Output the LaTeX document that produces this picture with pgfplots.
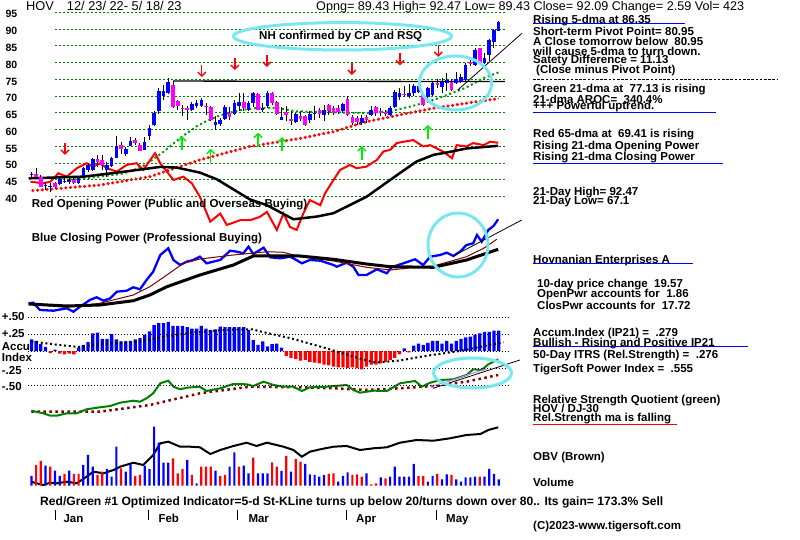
\documentclass[border=0pt]{standalone}
\usepackage{fontspec}
\setmainfont{Liberation Sans}
\usepackage{pgfplots}
\usepackage{pgfplotstable}
\pgfplotsset{compat=1.18}
\usetikzlibrary{arrows.meta}

\definecolor{hblue}{RGB}{0,0,255}
\definecolor{hred}{RGB}{255,0,0}
\definecolor{hmag}{RGB}{255,0,255}
\definecolor{hgrid}{RGB}{0,128,0}
\definecolor{hgreen}{RGB}{0,150,0}
\definecolor{rsgreen}{RGB}{0,128,0}
\definecolor{hlime}{RGB}{0,235,0}
\definecolor{hbrown}{RGB}{128,0,0}
\definecolor{hcyan}{RGB}{120,232,240}
\definecolor{hpink}{RGB}{220,120,255}

\newcommand{\B}{\fontsize{11.5}{11.5}\selectfont\bfseries}

% day index i, open, close, high, low
\pgfplotstableread{
i o c h l
0 46.4 46.9 47.5 46.0
1 46.8 46.0 48.5 45.8
2 45.8 43.0 46.5 42.8
3 43.2 43.6 44.5 42.0
4 43.0 43.2 44.0 41.5
5 44.0 43.0 44.5 42.5
6 43.7 45.3 45.8 43.5
7 44.6 44.8 46.0 44.0
8 44.5 44.9 45.5 43.8
9 45.0 44.2 45.6 43.8
10 44.0 45.5 46.0 43.8
11 46.2 48.7 49.0 46.0
12 48.0 49.5 50.0 47.5
13 48.0 51.2 51.5 47.8
14 51.4 50.4 52.4 49.0
15 50.9 49.4 52.4 48.0
16 48.0 49.5 50.5 45.8
17 49.1 51.6 52.0 49.0
18 51.6 55.1 58.0 51.5
19 55.4 54.1 56.4 52.8
20 52.9 54.2 54.9 52.3
21 55.1 56.7 57.9 55.0
22 56.9 56.1 57.5 55.5
23 55.4 53.7 56.0 53.5
24 53.9 56.4 57.9 53.8
25 58.1 60.4 61.4 56.9
26 61.4 64.9 65.5 61.0
27 65.6 71.5 72.3 64.8
28 70.0 71.5 73.3 69.0
29 71.0 74.2 75.5 70.5
30 73.3 66.9 74.5 66.5
31 68.5 67.0 69.0 65.8
32 66.6 66.1 67.5 64.0
33 66.4 66.0 67.2 63.0
34 66.0 67.8 68.3 65.5
35 67.0 68.0 68.8 66.5
36 67.0 68.8 69.5 66.8
37 67.2 66.9 68.0 64.5
38 66.8 62.8 67.0 62.5
39 61.3 62.3 64.0 60.0
40 61.8 63.0 63.5 61.0
41 63.3 66.8 67.5 63.0
42 65.0 63.8 66.8 62.8
43 64.8 68.0 69.0 64.5
44 67.0 68.3 70.8 65.5
45 68.3 66.6 70.8 65.5
46 65.8 68.0 68.5 65.5
47 68.0 70.8 71.3 66.8
48 70.6 66.0 71.0 65.8
49 66.0 66.6 68.0 65.3
50 67.0 71.0 71.5 66.5
51 71.0 68.0 71.3 67.5
52 68.3 64.8 68.5 64.5
53 63.0 63.8 66.8 62.8
54 65.3 64.3 67.0 62.5
55 63.1 62.6 65.5 61.5
56 62.3 64.8 65.0 62.0
57 64.1 63.1 65.5 62.5
58 64.1 61.3 64.5 61.0
59 62.8 64.6 65.5 62.0
60 64.9 65.1 67.0 63.0
61 65.8 64.8 66.5 63.5
62 64.5 65.8 67.3 62.5
63 67.3 65.6 67.8 64.5
64 66.5 65.0 67.0 64.5
65 66.5 65.2 67.5 64.8
66 65.6 67.8 68.0 65.0
67 69.1 64.4 70.0 64.0
68 63.9 61.9 64.5 61.5
69 63.4 62.4 64.0 61.5
70 62.0 63.4 64.5 61.5
71 63.8 63.0 64.5 62.0
72 64.4 65.9 67.0 64.0
73 66.7 64.9 67.0 64.0
74 65.5 65.0 66.5 64.0
75 65.4 64.8 66.0 64.0
76 64.4 66.4 67.0 64.0
77 66.9 71.3 71.8 66.5
78 69.8 70.8 72.5 69.0
79 70.7 70.3 73.0 69.8
80 70.0 70.8 73.5 69.5
81 70.8 73.0 73.5 70.0
82 71.3 73.0 74.0 71.0
83 70.3 67.4 70.8 67.0
84 69.8 72.3 72.8 69.5
85 70.3 73.8 74.5 70.0
86 73.8 73.2 75.0 72.5
87 72.8 74.3 75.5 71.0
88 73.8 74.8 76.8 71.5
89 74.3 71.8 75.0 71.5
90 74.0 75.0 77.3 73.5
91 74.3 75.8 76.5 74.0
92 74.8 79.3 79.8 74.5
93 80.3 79.6 81.8 79.0
94 79.3 83.8 84.3 79.0
95 84.3 79.8 84.5 79.5
96 79.8 81.3 82.8 79.5
97 82.3 86.7 87.0 80.5
98 86.2 89.7 90.0 84.5
99 89.43 92.09 92.47 89.43
}\cdl

% Accumulation Index (IP21)
\pgfplotstableread{
i v
0 0.17
1 0.15
2 0.10
3 0.06
4 -0.03
5 0.02
6 -0.04
7 -0.05
8 -0.04
9 -0.05
10 0.05
11 0.09
12 0.13
13 0.26
14 0.27
15 0.18
16 0.18
17 0.25
18 0.17
19 0.14
20 0.14
21 0.15
22 0.17
23 0.19
24 0.24
25 0.29
26 0.38
27 0.41
28 0.41
29 0.43
30 0.37
31 0.37
32 0.37
33 0.35
34 0.33
35 0.33
36 0.37
37 0.33
38 0.31
39 0.32
40 0.36
41 0.35
42 0.35
43 0.35
44 0.35
45 0.35
46 0.31
47 0.16
48 0.09
49 0.14
50 0.07
51 0.10
52 0.11
53 0.05
54 -0.07
55 -0.10
56 -0.12
57 -0.14
58 -0.13
59 -0.16
60 -0.17
61 -0.18
62 -0.20
63 -0.21
64 -0.23
65 -0.24
66 -0.24
67 -0.25
68 -0.24
69 -0.25
70 -0.27
71 -0.23
72 -0.20
73 -0.20
74 -0.18
75 -0.16
76 -0.13
77 -0.10
78 -0.05
79 0.04
80 -0.02
81 0.08
82 0.11
83 0.09
84 0.12
85 0.15
86 0.15
87 0.11
88 0.15
89 0.11
90 0.15
91 0.18
92 0.20
93 0.21
94 0.24
95 0.26
96 0.28
97 0.28
98 0.30
99 0.30
}\ipt

% volume, u=1 up day (blue), u=0 down day (red)
\pgfplotstableread{
i v u
0 9.7 1
1 20.7 0
2 24.7 0
3 20 1
4 19 0
5 15 1
6 9.7 1
7 11.7 0
8 15 1
9 11.7 0
10 11.7 0
11 20.7 1
12 30.7 1
13 19 1
14 10.7 0
15 14 0
16 16.7 1
17 9 1
18 39 1
19 17.3 0
20 14 1
21 22.3 1
22 9.7 0
23 10.7 0
24 20 1
25 16.7 1
26 59 1
27 43 1
28 23 1
29 23 1
30 27.3 0
31 12.3 0
32 16.7 0
33 25.7 1
34 10.7 0
35 2.3 1
36 19 0
37 19 0
38 19 0
39 15 1
40 9.7 0
41 10.7 0
42 19 1
43 33.3 1
44 19 0
45 20 1
46 12.3 1
47 28 0
48 12.3 1
49 12.3 1
50 12.3 1
51 23.3 0
52 19 0
53 14.7 1
54 29.7 0
55 14 1
56 26.7 0
57 24 0
58 21.7 1
59 11.3 1
60 10.7 1
61 9 1
62 10.7 1
63 11.7 0
64 12.3 0
65 4 1
66 9.7 1
67 13.3 1
68 10.7 0
69 11.3 0
70 9 0
71 12.3 1
72 1.3 0
73 2.3 0
74 8.3 1
75 7.3 0
76 9 1
77 19 1
78 9 1
79 9 1
80 9 1
81 21.7 1
82 9.7 0
83 9.7 0
84 4 1
85 9.7 1
86 11.7 0
87 6.3 1
88 11.3 1
89 10.7 0
90 6.3 1
91 4 1
92 8.3 1
93 8.3 1
94 9 1
95 9 0
96 9 1
97 16.7 1
98 11.7 1
99 6.3 1
}\vol

\pgfplotsset{ov/.style={at={(0pt,0pt)}, anchor=south west, scale only axis,
  width=800pt, height=540pt, xmin=-6.653, xmax=162.84, axis lines=none,
  ticks=none, clip=false}}

\begin{document}
\begin{tikzpicture}[x=1pt,y=1pt]
\fill[white] (0,0) rectangle (800,540);
\path[use as bounding box] (0,0) rectangle (800,540);

% ---------------- price panel ----------------
\begin{axis}[ov, ymin=-62.33, ymax=98.67]
\pgfplotsinvokeforeach{95,90,...,40}{
  \addplot[hgrid, line width=1pt, dash pattern=on 2pt off 2pt] coordinates {(5,#1)(100.4,#1)};
  \node[anchor=base east, inner sep=0pt, font=\fontsize{10.5}{10.5}\selectfont\bfseries] at (axis cs:-2.94,#1-1.7) {#1};
}
% red 65-dma (crosses)
\addplot[hred, line width=1.3pt, dash pattern=on 3pt off 1.72pt] coordinates {
(0,41.8)(14.5,43.5)(25.1,46)(35.7,51)(46.3,55)(56.9,57.4)(64,59.4)(71,62.4)(78,64.4)(85.2,66.4)(92.2,67.9)(99,69.3)};
\addplot[hred, line width=3pt, dash pattern=on 1.3pt off 3.42pt, dash phase=3.87pt] coordinates {
(0,41.8)(14.5,43.5)(25.1,46)(35.7,51)(46.3,55)(56.9,57.4)(64,59.4)(71,62.4)(78,64.4)(85.2,66.4)(92.2,67.9)(99,69.3)};
% green 21-dma
\addplot[hgreen, line width=2pt, dash pattern=on 2pt off 2.72pt] coordinates {
(8,45.0)(12,45.6)(16,46.3)(19,46.8)(21.8,48)(23.5,49)(25.6,51)(27.7,53.1)(29.7,55.4)(31.6,57.6)(33,59)(35,61)(37,62.5)(40,64.3)(44,65.8)(48,66.5)(52,66.5)(56,65.5)(60,65.3)(64,65.2)(68,65)(72,65)(76,65.5)(80,66.8)(84,68.3)(88,70.3)(92,72.5)(96,75.5)(99,77.1)};
% red opening power
\addplot[hred, line width=2pt] coordinates {
(-0.2,44.5)(2.5,44.0)(4.0,44.5)(5.7,47)(7.5,46)(9.6,48.5)(11.7,50)(13.1,49)(14.5,50)(16,48.5)(18.1,47.5)(20.2,49.5)(22.3,50)(23.7,48)(26.2,53)(27.3,50)(28.7,47.5)(30.1,45)(32.2,46)(34,44)(35.7,40)(37.9,32.6)(40,35)(41.4,31.6)(44.2,33)(46.3,33)(48.4,34)(49.9,35.5)(52,30.1)(53.4,35)(54.8,31)(56.2,30.1)(57.6,35)(59,39)(61.2,37.5)(62.2,41)(64,45)(65.4,48)(67.5,49.5)(68.9,48.5)(71,49)(73.2,51)(74.6,53.5)(76,54)(77.4,56)(78.8,56.4)(80.9,56.9)(83,55)(84.5,55.4)(87.3,53.4)(89.1,51.5)(90.1,55.4)(92.2,55)(93.6,56)(95.8,55.4)(97.2,56.4)(98.9,56.1)};
% black opening power average
\addplot[black, line width=2.5pt] coordinates {
(-0.6,45.5)(11,46)(18.1,47.2)(27.3,48.9)(30.8,48.7)(35.7,47.2)(39.3,45.2)(42.8,42.2)(46.3,39.2)(49.9,37.5)(55.5,33.3)(60.5,34.1)(64,35.1)(71,40)(78.1,47.1)(81.6,50.5)(85.2,52.5)(88.7,53.4)(92.2,54.4)(98.9,55.2)};
% resistance line and trend line
\addplot[black, line width=1.3pt] coordinates {(30,74.5)(100.3,74.35)};
\addplot[black, line width=0.8pt] coordinates {(90.3,71.8)(103.9,88.7)};
% candles: wicks, then bodies
\addplot[draw=none, mark=none, error bars/.cd, y dir=both, y explicit, error mark=none,
  error bar style={draw=black, line width=1pt, solid}]
  table[x=i, y expr={(\thisrow{h}+\thisrow{l})/2}, y error expr={(\thisrow{h}-\thisrow{l})/2}] {\cdl};
\addplot[draw=none, mark=none, restrict expr to domain={\thisrow{c}-\thisrow{o}}{0:100},
  error bars/.cd, y dir=both, y explicit, error mark=none,
  error bar style={draw=hblue, line width=3.6pt, solid, line cap=butt}]
  table[x=i, y expr={(\thisrow{o}+\thisrow{c})/2}, y error expr={abs(\thisrow{c}-\thisrow{o})/2}] {\cdl};
\addplot[draw=none, mark=none, restrict expr to domain={\thisrow{c}-\thisrow{o}}{-100:-0.001},
  error bars/.cd, y dir=both, y explicit, error mark=none,
  error bar style={draw=hmag, line width=3.6pt, solid, line cap=butt}]
  table[x=i, y expr={(\thisrow{o}+\thisrow{c})/2}, y error expr={abs(\thisrow{c}-\thisrow{o})/2}] {\cdl};
% signal arrows
\addplot[hred, line width=1.4pt, -{Straight Barb[length=4pt,width=8pt]}, quiver={u=0,v=-3.6}] coordinates {
(7.1,56.1)(36.1,79.3)(43.1,81.4)(49.9,82.3)(67.9,79.9)(78.1,82.8)(86.2,85.3)};
\addplot[hlime, line width=1.4pt, -{Straight Barb[length=4pt,width=8pt]}, quiver={u=0,v=4.2}] coordinates {
(31.9,53.9)(38,50.1)(48,54.9)(53.1,53.6)(70,50.9)(84,57.2)};
\end{axis}

% ---------------- closing power, relative strength, OBV (panel heights) ----------------
\begin{axis}[ov, ymin=0, ymax=540]
% closing power
\addplot[hblue, line width=2.3pt] coordinates {
(-0.6,236.7)(0.4,237.3)(1.8,230)(4.7,229.3)(7.5,231.7)(8.9,228.3)(10.3,233.3)(12.4,240)(13.8,242.7)(15.3,239.3)(16.7,241.7)(18.1,248.3)(20.2,249.3)(21.6,252.7)(23,250.7)(24.4,260)(25.8,268.3)(27.3,285)(29,291.7)(30.1,280)(31.5,275)(32.9,278.3)(34.3,280)(35.7,283.3)(37.1,276.7)(40,280)(42.1,289.3)(43.5,288.3)(44.9,286.7)(46,293.3)(47,286)(49.2,292.3)(50.6,282.7)(52.7,281.7)(54.8,283.3)(55.5,281.7)(57.3,276.7)(59,280)(61.2,279.3)(64,275)(64.7,273.3)(66.8,277.3)(68.2,273.3)(69.3,265)(71,265)(73.2,270.7)(75.3,266.7)(76.3,272.7)(78.8,276.7)(81.3,280.7)(83,275)(84.5,283.3)(86.6,285)(88,287.3)(89.4,284)(90.8,288.3)(92.2,295)(93.6,296.7)(94.4,305)(95.4,298.3)(96.8,310)(97.9,314)(98.9,320.7)};
\addplot[hbrown, line width=1pt] coordinates {
(-0.6,236)(7.5,232.7)(14.5,236.7)(21.6,245)(25.1,253.3)(28.7,265)(32.2,276.7)(35.7,281)(42.8,285)(49.9,288.3)(53.4,287.7)(56.9,283.3)(64,279)(71,272.7)(76,270)(81.6,272.7)(85.2,274)(92.2,283.3)(95.8,291.7)(98.6,300.7)};
\addplot[black, line width=3pt] coordinates {
(-0.6,236)(7.5,234)(14.5,235)(21.6,239.3)(25.1,245)(28.7,253.3)(35.7,265)(42.8,275)(47,284)(56.9,284)(64,280.7)(71,276)(76,273.3)(85.2,272.7)(92.2,280)(98.9,290.7)};
\addplot[black, line width=0.8pt] coordinates {(89.4,284)(103.9,320)};
% relative strength quotient and its average
\addplot[hbrown, line width=2.5pt, dash pattern=on 2.5pt off 3.5pt] coordinates {
(0,128.3)(14.5,128.3)(25.1,135)(35.7,146.7)(46.3,153.3)(56.9,152.7)(64,151.7)(71,150)(78.1,151.7)(85.2,154)(92.2,158.3)(98.9,165)};
\addplot[rsgreen, line width=2pt] coordinates {
(0,129.3)(2.5,126.7)(4,124.3)(5.4,124.3)(7.5,126.7)(9.6,126.7)(11.7,130.7)(14.5,132.7)(16.7,134)(18.8,137.3)(21.6,139.3)(23,138.3)(24.4,141.7)(25.8,146.7)(27.3,156.7)(29,159.3)(30.1,153.3)(31.5,150.7)(32.9,152.3)(35.7,153.3)(37.1,149)(40,151.7)(42.8,156)(45.6,155.7)(47,154)(49.2,158.3)(51.3,155)(53.4,153.3)(55.5,153.3)(57.3,149)(59,152.7)(62.6,153.3)(66.8,155)(68.2,150)(69.6,147.3)(72.5,149.3)(75.3,149)(78.1,156.7)(81.3,159)(82.7,153.3)(84.5,157.3)(86.6,160)(89.4,160.7)(92.2,165)(93.6,170.7)(95.4,170)(96.8,175.7)(98.9,180.7)};
\addplot[hpink, line width=1pt] coordinates {(84.5,153.5)(88,158)(90.5,162)(93.6,167)(96.5,171)};
\addplot[black, line width=0.8pt] coordinates {(85.1,151.7)(103.5,180)};
% on-balance volume
\addplot[black, line width=2pt] coordinates {
(0,58.3)(1.1,56.7)(2.5,55)(4,57.3)(5.4,56.7)(7.5,58.3)(9.6,56.7)(11.7,63.3)(13.1,68.3)(15.3,66.7)(17.4,70)(18.8,73.3)(21.6,77.3)(23.7,75)(25.8,85)(27.3,96.7)(29,98.3)(31.5,93.3)(33.6,93.3)(35.7,92.7)(37.9,86)(40,90)(42.8,94)(45.6,97.3)(47.7,94)(49.9,97.3)(53.4,93.3)(55.5,90)(57.3,83.3)(59,88.3)(61.2,90.7)(64,93.3)(66.8,94)(69.6,90)(72.5,91.7)(75.3,92.7)(78.1,97.3)(81.6,100)(85.2,99.3)(88.7,101.7)(92.2,105)(95.1,106)(96.8,110)(98.9,112.7)};
\end{axis}

% ---------------- accumulation index ----------------
\begin{axis}[ov, ymin=-2.779, ymax=5.162]
\pgfplotsinvokeforeach{0.5,0.25,0,-0.25,-0.5}{
  \addplot[black, line width=1pt, dash pattern=on 1pt off 2pt] coordinates {(-0.7,#1)(101.5,#1)};
}
\addplot[ybar, bar width=3.3pt, bar shift=0pt, fill=hblue, draw=none, restrict y to domain=0:10] table[x=i, y=v] {\ipt};
\addplot[ybar, bar width=3.3pt, bar shift=0pt, fill=hred, draw=none, restrict y to domain=-10:-0.0001] table[x=i, y=v] {\ipt};
\addplot[black, line width=2pt, dash pattern=on 2pt off 2.7pt] coordinates {
(0,0.14)(5.7,0.09)(10,0.06)(16,0.11)(23,0.14)(28,0.21)(34,0.27)(41,0.31)(46.7,0.32)(49,0.28)(54.8,0.19)(62.5,0.04)(69.5,-0.11)(73,-0.17)(78,-0.14)(83.7,-0.07)(90.7,0)(100,0.13)};
\end{axis}

% ---------------- volume ----------------
\begin{axis}[ov, ymin=-54.3, ymax=485.7]
\addplot[ybar, bar width=2.2pt, bar shift=0pt, fill=hblue, draw=none, restrict expr to domain={\thisrow{u}}{0.5:2}] table[x=i, y=v] {\vol};
\addplot[ybar, bar width=2.2pt, bar shift=0pt, fill=hred, draw=none, restrict expr to domain={\thisrow{u}}{-1:0.5}] table[x=i, y=v] {\vol};
\end{axis}

% ---------------- annotations ----------------
\draw[hcyan, line width=3pt] (342.5,503.7) ellipse (109 and 13.7);
\draw[hcyan, line width=3pt] (455.5,457) ellipse (36.2 and 27);
\draw[hcyan, line width=3pt] (458,295) ellipse (30 and 32);
\draw[hcyan, line width=3pt] (472.5,167) ellipse (39 and 15);
\node[font=\B, inner sep=0pt] at (340.7,503.3) {NH confirmed by CP and RSQ};

\node[anchor=base west, inner sep=0pt, font=\fontsize{12.8}{12.8}\selectfont] at (26,529) {HOV\hspace{13pt}12/ 23/ 22- 5/ 18/ 23};
\node[anchor=base west, inner sep=0pt, font=\fontsize{12.6}{12.6}\selectfont] at (316,529) {Opng= 89.43 High= 92.47 Low= 89.43 Close= 92.09 Change= 2.59 Vol= 423};

\begin{scope}[every node/.style={anchor=base west, inner sep=0pt, font=\B}]
\node at (533,516.5) {Rising 5-dma at 86.35};
\node at (533,504) {Short-term Pivot Point= 80.95};
\node at (533,494.3) {A Close tomorrow below \ 80.95};
\node at (533,484.3) {will cause 5-dma to turn down.};
\node at (533,476) {Satety Difference = 11.13};
\node at (536,466.7) {(Close minus Pivot Point)};
\node at (533,447.7) {Green 21-dma at \ 77.13 is rising};
\node at (533,436.7) {21-dma AROC= \ 340.4\%};
\node at (533,430) {+++ Powerful uptrend.};
\node at (533,402) {Red 65-dma at \ 69.41 is rising};
\node at (533,390.3) {Rising 21-dma Opening Power};
\node at (533,379.3) {Rising 21-dma Closing Power};
\node at (533,344.3) {21-Day High= 92.47};
\node at (533,335.3) {21-Day Low= 67.1};
\node at (533,276.7) {Hovnanian Enterprises A};
\node at (537,252.7) {10-day price change \ 19.57};
\node at (537,242) {OpenPwr accounts for \ 1.86};
\node at (537,230) {ClosPwr accounts for \ 17.72};
\node at (533,203.7) {Accum.Index (IP21) = \ .279};
\node at (533,193.7) {Bullish - Rising and Positive IP21};
\node at (533,181) {50-Day ITRS (Rel.Strength) = \ .276};
\node at (533,167) {TigerSoft Power Index = \ .555};
\node at (533,136.7) {Relative Strength Quotient (green)};
\node at (533,127.7) {HOV / DJ-30};
\node at (533,118.3) {Rel.Strength ma is falling};
\node at (533,79.3) {OBV (Brown)};
\node at (533,53.3) {Volume};
\node[font=\fontsize{12.1}{12.1}\selectfont\bfseries] at (40,34.5) {Red/Green \#1 Optimized Indicator=5-d St-KLine turns up below 20/turns down over 80.. Its gain= 173.3\% Sell};
\node at (533,10) {(C)2023-www.tigersoft.com};
\node at (31.7,332.7) {Red Opening Power (Public and Overseas Buying)};
\node at (31.7,298.3) {Blue Closing Power (Professional Buying)};
\node at (63.3,17) {Jan};
\node at (158.3,17) {Feb};
\node at (248.3,17) {Mar};
\node at (356,17) {Apr};
\node at (446,17) {May};
\end{scope}
\begin{scope}[every node/.style={anchor=west, inner sep=0pt, font=\B}]
\node at (1.7,223.3) {+.50};
\node at (1.7,206) {+.25};
\node at (1.7,193.3) {Accu};
\node at (1.7,182.3) {Index};
\node at (1.7,169.3) {-.25};
\node at (1.7,153.3) {-.50};
\end{scope}

\draw[hblue, line width=1pt] (533,516) -- (685,516);
\draw[line width=1pt, dash pattern=on 2.6pt off 1.6pt] (533,460.7) -- (777,460.7);
\draw[hblue, line width=1pt] (533,427.3) -- (716,427.3);
\draw[hblue, line width=1pt] (533,376.7) -- (723,376.7);
\draw[hblue, line width=1pt] (533,276) -- (693,276);
\draw[hblue, line width=1pt] (533,193) -- (748,193);
\draw[hred, line width=1pt] (533,115) -- (677,115);
\foreach \mx in {55,148.3,237.7,346.7,436.7} \draw[line width=1pt] (\mx,30) -- (\mx,20);
\end{tikzpicture}
\end{document}
